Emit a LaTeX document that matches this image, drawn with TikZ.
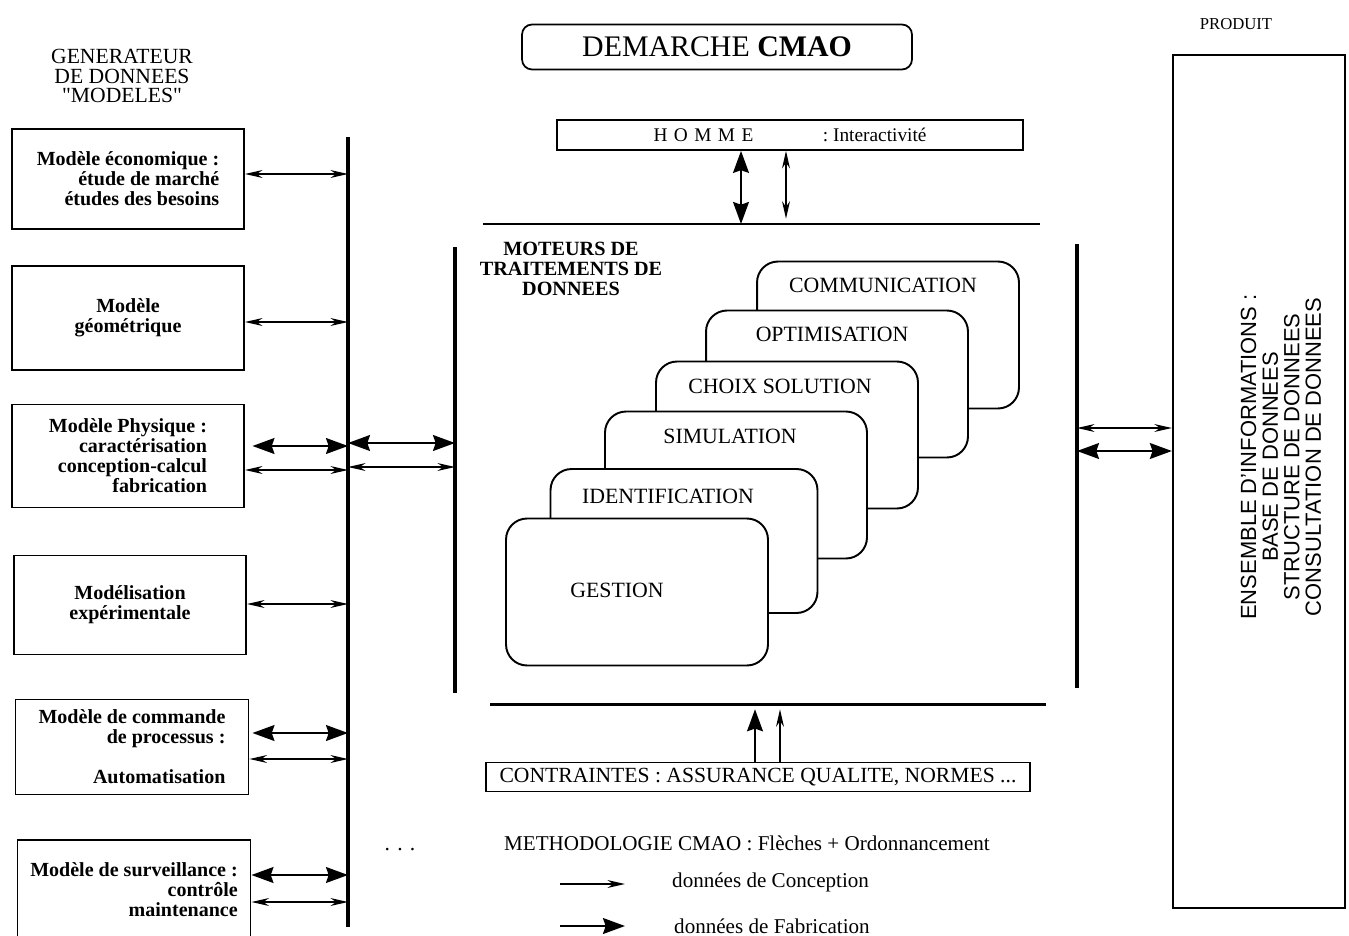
\documentclass[tikz,border=0pt]{standalone}
\usepackage{fontspec}
\setmainfont{Liberation Serif}
\setsansfont{Liberation Sans}
\usetikzlibrary{arrows.meta}

\tikzset{
    conhead/.tip={Stealth[length=10pt,width=4.5pt]},
    fabhead/.tip={Stealth[length=12.5pt,width=9pt,inset=1.5pt]},
    con/.style={line width=0.8pt, conhead-conhead},
    fab/.style={line width=1.3pt, fabhead-fabhead},
    bus/.style={line width=2.3pt},
    model/.style={draw, line width=1.1pt, minimum width=4.64cm, minimum height=2cm,
        align=right, inner sep=2pt, font=\bfseries\fontsize{11.4}{11.4}\selectfont},
    engine/.style={draw, fill=white, line width=1.1pt, rounded corners=0.42cm,
        minimum width=5.24cm, minimum height=2.94cm},
    enginelabel/.style={font=\fontsize{12.4}{13}\selectfont},
    plain/.style={font=\fontsize{12.3}{11.3}\selectfont, align=center},
}

\begin{document}
\begin{tikzpicture}[x=0.02cm, y=-0.02cm]
    \useasboundingbox (0,0) rectangle (1349,936);

    % generateur de donnees
    \node[plain] (gen) at (122,76) {GENERATEUR\\DE DONNEES\\\textquotedbl MODELES\textquotedbl};
    \node[model] (eco) at (128,179) {Modèle économique :\\étude de marché\\études des besoins};
    \node[model, align=center, minimum height=2.08cm] (geo) at (128,318) {Modèle\\géométrique};
    \node[model, minimum height=2.06cm] (phys) at (128,456) {Modèle Physique :\\caractérisation\\conception-calcul\\fabrication};
    \node[model, align=center, minimum height=1.98cm] (expe) at (130,605) {Modélisation\\expérimentale};
    \node[model, minimum width=4.66cm, minimum height=1.9cm] (cmd) at (132,747) {Modèle de commande\\de processus :\\[11.4pt]Automatisation};
    \node[model, minimum width=4.66cm] (surv) at (134,890) {Modèle de surveillance :\\contrôle\\maintenance};

    \coordinate (busL1) at (348,137);
    \coordinate (busL2) at (348,927);
    \draw[bus] (busL1) -- (busL2);

    \draw[con] (eco.east |- 0,174) -- (busL1 |- 0,174);
    \draw[con] (geo.east |- 0,322) -- (busL1 |- 0,322);
    \draw[fab] ([xshift=0.15cm]phys.east |- 0,446) -- (busL1 |- 0,446);
    \draw[con] (phys.east |- 0,470) -- (busL1 |- 0,470);
    \draw[con] (expe.east |- 0,604) -- (busL1 |- 0,604);
    \draw[fab] ([xshift=0.06cm]cmd.east |- 0,733) -- (busL1 |- 0,733);
    \draw[con] (cmd.east |- 0,759) -- (busL1 |- 0,759);
    \draw[fab] (surv.east |- 0,875) -- (busL1 |- 0,875);
    \draw[con] (surv.east |- 0,902) -- (busL1 |- 0,902);
    \node[plain] (dots) at (400,850) {. . .};

    % demarche CMAO
    \node[draw, line width=1pt, rounded corners=0.2cm, minimum width=7.8cm, minimum height=0.9cm,
        font=\fontsize{17}{17}\selectfont] (title) at (717,47) {DEMARCHE \textbf{CMAO}};
    \node[draw, line width=1pt, minimum width=9.32cm, minimum height=0.6cm, inner sep=1pt,
        font=\fontsize{11}{11}\selectfont] (homme) at (790,135)
        {H\,\,O\,\,M\,\,M\,\,E\hspace{3.6em}: Interactivité\hspace{1.2em}};

    \coordinate (top1) at (483,224);
    \coordinate (top2) at (1040,224);
    \draw[line width=1.7pt] (top1) -- (top2);
    \draw[fab] (homme.south -| 741,0) -- (top1 -| 741,0);
    \draw[con, shorten >=3pt] (homme.south -| 786,0) -- (top1 -| 786,0);

    \node[plain, font=\bfseries\fontsize{11.5}{11.3}\selectfont] (moteurs) at (571,269) {MOTEURS DE\\TRAITEMENTS DE\\DONNEES};

    \coordinate (busC1) at (455,247);
    \coordinate (busC2) at (455,693);
    \coordinate (busD1) at (1077,244);
    \coordinate (busD2) at (1077,688);
    \draw[bus] (busC1) -- (busC2);
    \draw[bus] (busD1) -- (busD2);
    \draw[fab] (busL1 |- 0,443) -- (busC1 |- 0,443);
    \draw[con] (busL1 |- 0,467) -- (busC1 |- 0,467);

    % moteurs empiles
    \node[engine] (comm) at (888,335) {};
    \node[enginelabel] (commlbl) at (883,285) {COMMUNICATION};
    \node[engine] (opti) at (837,384) {};
    \node[enginelabel] (optilbl) at (832,334) {OPTIMISATION};
    \node[engine] (choix) at (787,435) {};
    \node[enginelabel] (choixlbl) at (780,386) {CHOIX SOLUTION};
    \node[engine] (simu) at (736,485) {};
    \node[enginelabel] (simulbl) at (730,436) {SIMULATION};
    \node[engine, minimum width=5.34cm, minimum height=2.88cm] (ident) at (684,541) {};
    \node[enginelabel] (identlbl) at (668,496) {IDENTIFICATION};
    \node[engine] (gest) at (637,592) {};
    \node[enginelabel] (gestlbl) at (617,590) {GESTION};

    % contraintes
    \coordinate (bot1) at (490,704);
    \coordinate (bot2) at (1046,704);
    \draw[line width=1.7pt] (bot1) -- (bot2);
    \node[draw, line width=1pt, minimum width=10.88cm, minimum height=0.58cm, inner sep=1pt,
        font=\fontsize{12.3}{12.3}\selectfont] (contr) at (758,777) {CONTRAINTES : ASSURANCE QUALITE, NORMES ...};
    \draw[fab, -fabhead, shorten >=3pt] (contr.north -| 755,0) -- (bot1 -| 755,0);
    \draw[con, -conhead, shorten >=3pt] (contr.north -| 780,0) -- (bot1 -| 780,0);

    % methodologie
    \node[plain, anchor=west, font=\fontsize{12}{12}\selectfont] (metho) at (498,843) {METHODOLOGIE CMAO : Flèches + Ordonnancement};
    \node[plain, anchor=west, font=\fontsize{12}{12}\selectfont] (legcon) at (666,882) {données de Conception};
    \node[plain, anchor=west, font=\fontsize{12}{12}\selectfont] (legfab) at (668,926) {données de Fabrication};
    \coordinate (lc1) at (560,884);
    \coordinate (lc2) at (625,884);
    \coordinate (lf1) at (560,926);
    \coordinate (lf2) at (625,926);
    \draw[con, -conhead] (lc1) -- (lc2);
    \draw[fab, -fabhead] (lf1) -- (lf2);

    % produit
    \node[plain, font=\fontsize{9.5}{9.5}\selectfont] (prodlbl) at (1236,24) {PRODUIT};
    \node[draw, line width=1.3pt, minimum width=3.44cm, minimum height=17.06cm] (produit) at (1259,481.5) {};
    \node[rotate=90, align=center, font=\sffamily\fontsize{12.5}{12.3}\selectfont] (info) at (1281,457)
        {ENSEMBLE D'INFORMATIONS :\\BASE DE DONNEES\\STRUCTURE DE DONNEES\\CONSULTATION DE DONNEES};
    \draw[con] (busD1 |- 0,428) -- (produit.west |- 0,428);
    \draw[fab] (busD1 |- 0,451) -- (produit.west |- 0,451);
\end{tikzpicture}
\end{document}
